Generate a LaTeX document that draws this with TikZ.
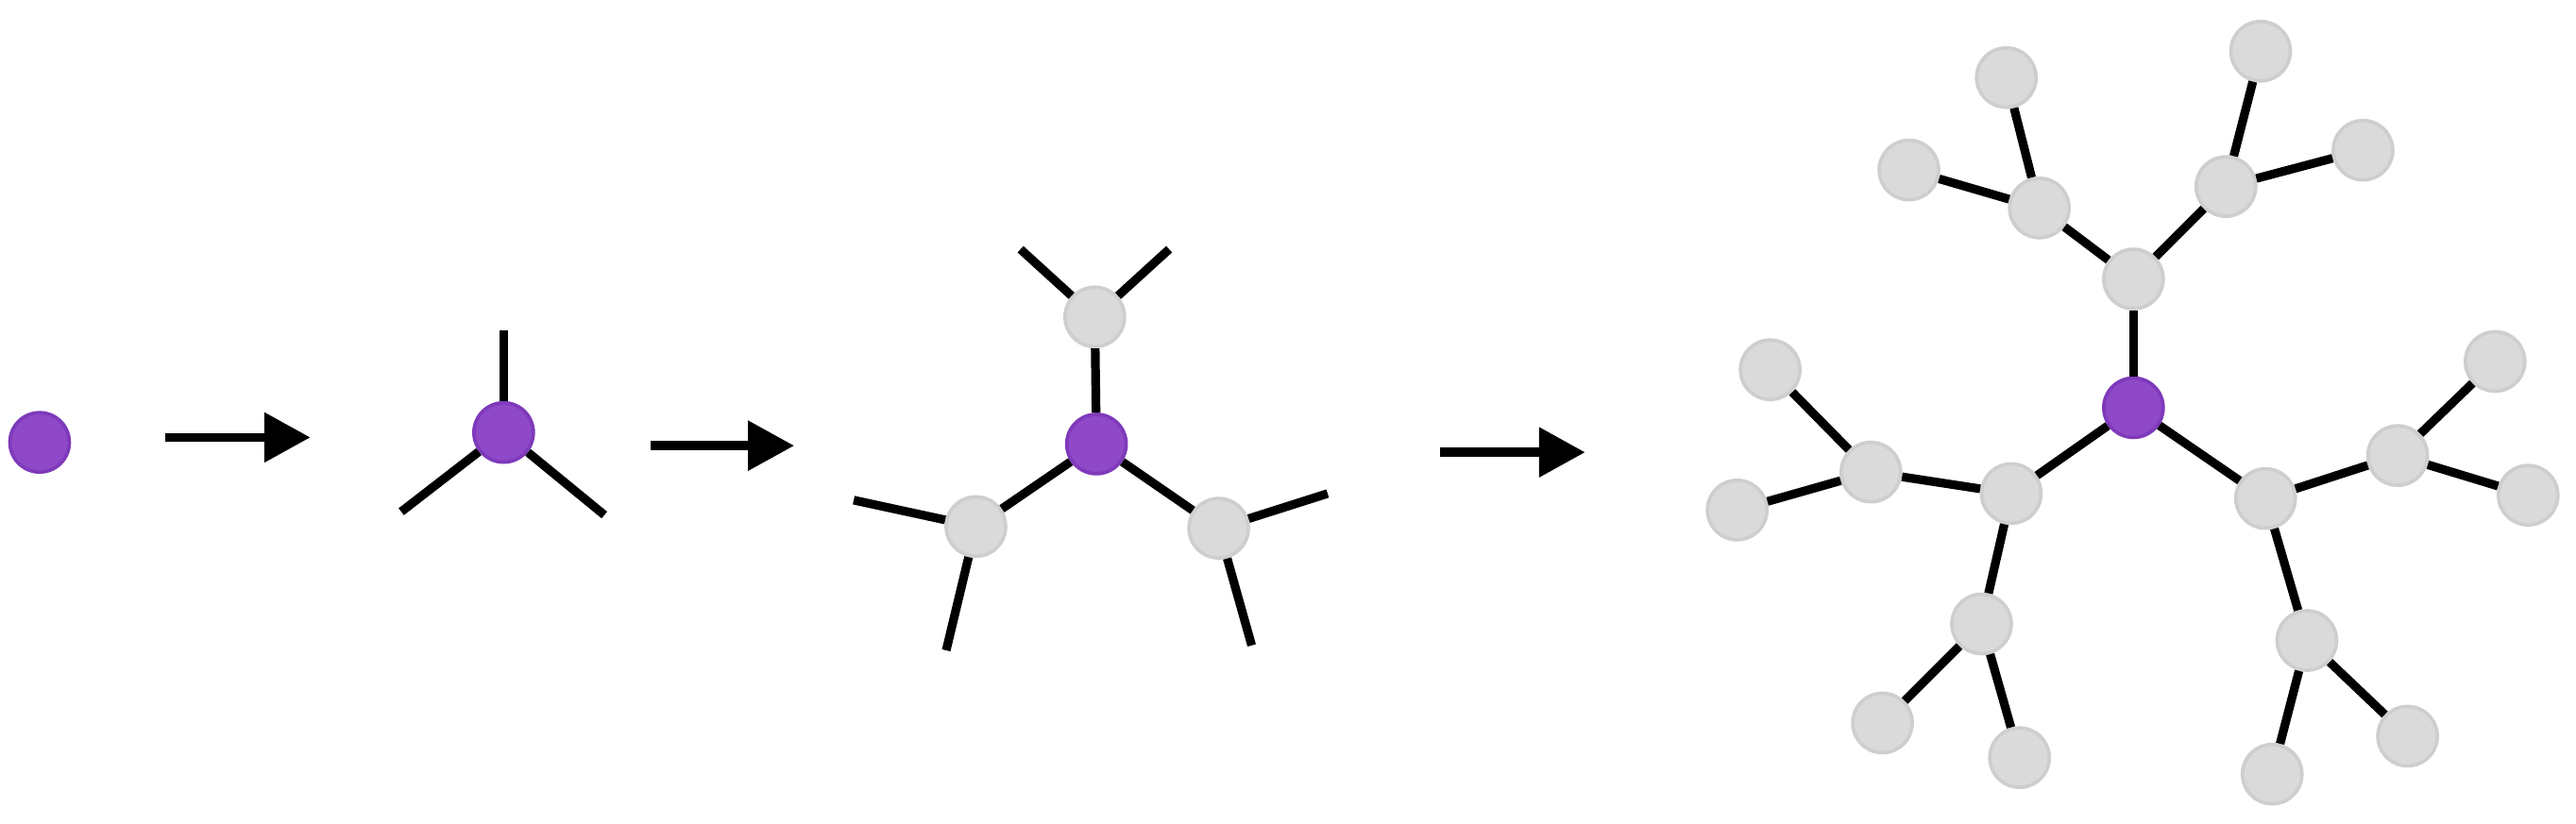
\documentclass[tikz,border=0pt]{standalone}
\usepackage{tikz}
\usetikzlibrary{arrows.meta}
\definecolor{corepurple}{RGB}{142,72,200}
\definecolor{coreedge}{RGB}{126,58,186}
\definecolor{beadgray}{RGB}{218,218,218}
\definecolor{beadedge}{RGB}{206,206,206}
\tikzset{
	core/.style={circle,inner sep=0pt,minimum size=3.6mm,fill=corepurple,draw=coreedge,line width=0.6pt},
	bead/.style={circle,inner sep=0pt,minimum size=3.6mm,fill=beadgray,draw=beadedge,line width=0.6pt},
	bond/.style={line width=1.5pt,black},
	stepto/.style={line width=1.6pt,black,-{Triangle[length=2.8mm,width=2.9mm]}}
}
\begin{document}
\begin{tikzpicture}[x=0.1mm,y=-0.1mm]
	\useasboundingbox (0,0) rectangle (1560,499.2);
	% stage 1
	\node [core] (s1) at (24,268) {};
	\coordinate (a1s) at (100,265);
	\coordinate (a1e) at (188,265);
	\draw [stepto] (a1s) -- (a1e);
	% stage 2
	\node [core] (s2) at (305,262) {};
	\coordinate (s2u) at (305,200);
	\coordinate (s2l) at (243,310);
	\coordinate (s2r) at (366,312);
	\draw [bond] (s2) -- (s2u);
	\draw [bond] (s2) -- (s2l);
	\draw [bond] (s2) -- (s2r);
	\coordinate (a2s) at (394,270);
	\coordinate (a2e) at (481,270);
	\draw [stepto] (a2s) -- (a2e);
	% stage 3
	\node [core] (s3) at (664,269) {};
	\node [bead] (s3t) at (663,192) {};
	\node [bead] (s3l) at (591,319) {};
	\node [bead] (s3r) at (738,320) {};
	\coordinate (s3ta) at (618,151);
	\coordinate (s3tb) at (708,151);
	\coordinate (s3la) at (517,303);
	\coordinate (s3lb) at (573,394);
	\coordinate (s3ra) at (804,299);
	\coordinate (s3rb) at (758,391);
	\draw [bond] (s3) -- (s3t);
	\draw [bond] (s3) -- (s3l);
	\draw [bond] (s3) -- (s3r);
	\draw [bond] (s3t) -- (s3ta);
	\draw [bond] (s3t) -- (s3tb);
	\draw [bond] (s3l) -- (s3la);
	\draw [bond] (s3l) -- (s3lb);
	\draw [bond] (s3r) -- (s3ra);
	\draw [bond] (s3r) -- (s3rb);
	\coordinate (a3s) at (872,274);
	\coordinate (a3e) at (960,274);
	\draw [stepto] (a3s) -- (a3e);
	% stage 4
	\node [core] (c) at (1292,247) {};
	\node [bead] (t) at (1292,169) {};
	\node [bead] (ta) at (1235,126) {};
	\node [bead] (tb) at (1348,113) {};
	\node [bead] (ta1) at (1215,47) {};
	\node [bead] (ta2) at (1156,103) {};
	\node [bead] (tb1) at (1369,31) {};
	\node [bead] (tb2) at (1431,91) {};
	\node [bead] (l) at (1218,299) {};
	\node [bead] (la) at (1133,286) {};
	\node [bead] (lb) at (1200,378) {};
	\node [bead] (la1) at (1072,224) {};
	\node [bead] (la2) at (1052,309) {};
	\node [bead] (lb1) at (1140,438) {};
	\node [bead] (lb2) at (1223,459) {};
	\node [bead] (r) at (1372,302) {};
	\node [bead] (ra) at (1452,276) {};
	\node [bead] (rb) at (1397,388) {};
	\node [bead] (ra1) at (1511,219) {};
	\node [bead] (ra2) at (1531,300) {};
	\node [bead] (rb1) at (1458,446) {};
	\node [bead] (rb2) at (1376,469) {};
	\draw [bond] (c) -- (t);
	\draw [bond] (c) -- (l);
	\draw [bond] (c) -- (r);
	\draw [bond] (t) -- (ta);
	\draw [bond] (t) -- (tb);
	\draw [bond] (ta) -- (ta1);
	\draw [bond] (ta) -- (ta2);
	\draw [bond] (tb) -- (tb1);
	\draw [bond] (tb) -- (tb2);
	\draw [bond] (l) -- (la);
	\draw [bond] (l) -- (lb);
	\draw [bond] (la) -- (la1);
	\draw [bond] (la) -- (la2);
	\draw [bond] (lb) -- (lb1);
	\draw [bond] (lb) -- (lb2);
	\draw [bond] (r) -- (ra);
	\draw [bond] (r) -- (rb);
	\draw [bond] (ra) -- (ra1);
	\draw [bond] (ra) -- (ra2);
	\draw [bond] (rb) -- (rb1);
	\draw [bond] (rb) -- (rb2);
\end{tikzpicture}
\end{document}
